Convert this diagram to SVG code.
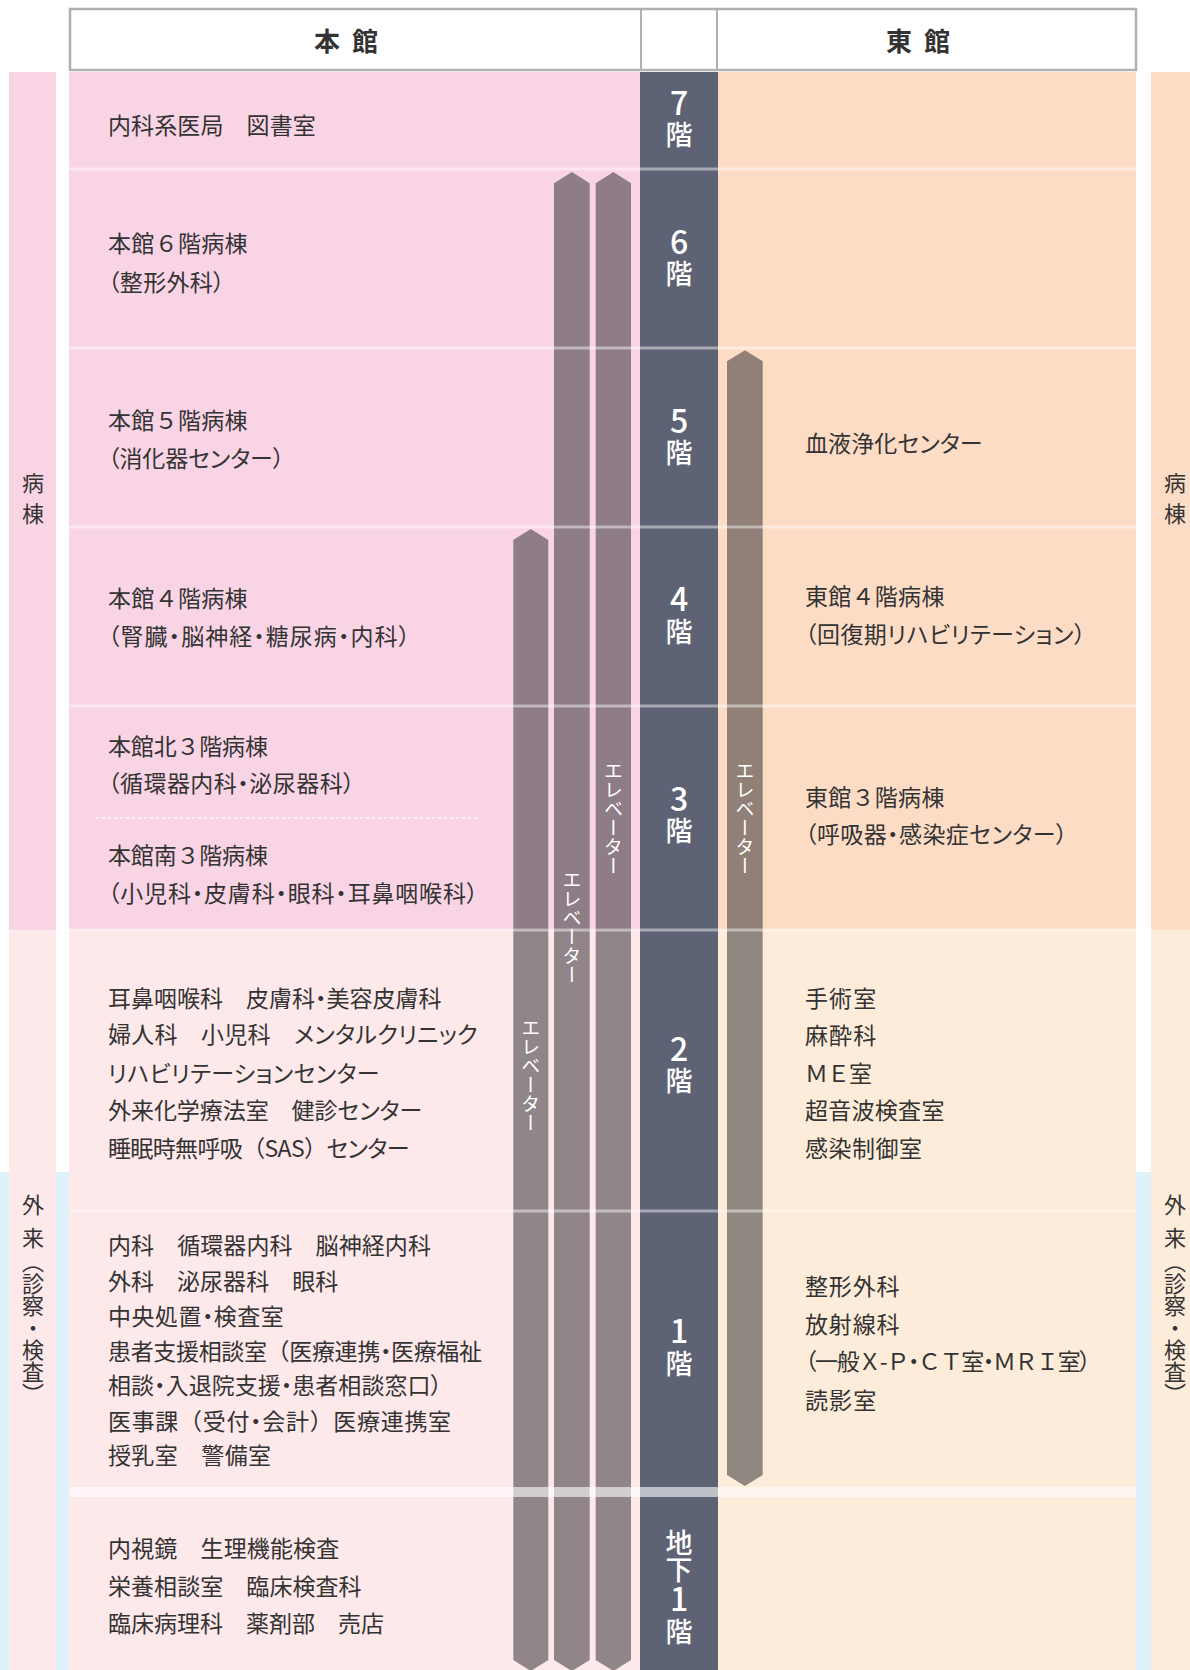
<svg xmlns="http://www.w3.org/2000/svg" width="1190" height="1670" viewBox="0 0 1190 1670">
<style>
text{font-family:"Noto Sans CJK JP","Noto Sans",sans-serif;}
.t{font-size:23px;fill:#333;font-feature-settings:"palt";}
.fw{font-feature-settings:normal;}
.hd{font-size:26px;font-weight:700;fill:#333;letter-spacing:12px;}
.side{font-size:22px;fill:#333;text-anchor:middle;}
.sidev{font-size:22px;fill:#333;writing-mode:vertical-rl;}
.flv{font-size:27px;fill:#fff;font-weight:500;writing-mode:vertical-rl;text-orientation:upright;}
.dg{font-size:32px;letter-spacing:2.5px;}
.ev{font-size:19px;fill:#fff;writing-mode:vertical-rl;}
.wW{fill:#f9d4e5;}
.wE{fill:#fddcc6;}
.oW{fill:#fde8ea;}
.oE{fill:#fdecd9;}
.elev{fill:#242428;fill-opacity:0.5;}
.row{stroke:#fff;stroke-opacity:0.45;stroke-width:3;}
</style>
<rect x="0" y="0" width="1190" height="1670" fill="#fff"/>
<rect x="0" y="1172" width="1190" height="498" fill="#dff1f9"/>

<g id="header">
<rect x="70" y="9" width="1066" height="61" fill="#fff" stroke="#b0b0b0" stroke-width="2.5"/>
<line x1="641" y1="9" x2="641" y2="70" stroke="#b0b0b0" stroke-width="2"/>
<line x1="717" y1="9" x2="717" y2="70" stroke="#b0b0b0" stroke-width="2"/>
<text class="hd" x="314" y="51">本館</text>
<text class="hd" x="886" y="51">東館</text>
</g>

<g id="side-left">
<rect x="9" y="72" width="47" height="858" class="wW"/>
<rect x="9" y="930" width="47" height="740" class="oW"/>
<text class="side" x="33" y="490.5">病</text>
<text class="side" x="33" y="521.5">棟</text>
<text class="side" x="33" y="1213">外</text>
<text class="side" x="33" y="1246">来</text>
<text class="sidev" x="33" y="1251">（診察・検査）</text>
</g>
<g id="side-right">
<rect x="1151" y="72" width="47" height="858" class="wE"/>
<rect x="1151" y="930" width="47" height="740" class="oE"/>
<text class="side" x="1175" y="490.5">病</text>
<text class="side" x="1175" y="521.5">棟</text>
<text class="side" x="1175" y="1213">外</text>
<text class="side" x="1175" y="1246">来</text>
<text class="sidev" x="1175" y="1251">（診察・検査）</text>
</g>

<g id="floor-7">
<rect x="69" y="72" width="571" height="97" class="wW"/>
<rect x="718" y="72" width="418" height="97" class="wE"/>
<text class="t" x="108" y="134" textLength="207.8" lengthAdjust="spacing">内科系医局　図書室</text>
</g>
<g id="floor-6">
<rect x="69" y="169" width="571" height="179" class="wW"/>
<rect x="718" y="169" width="418" height="179" class="wE"/>
<text class="t" x="108" y="251.5" textLength="139.6" lengthAdjust="spacing">本館<tspan class="fw">６</tspan>階病棟</text>
<text class="t" x="108" y="290.5" textLength="116.7" lengthAdjust="spacing">（整形外科）</text>
</g>
<g id="floor-5">
<rect x="69" y="348" width="571" height="179" class="wW"/>
<rect x="718" y="348" width="418" height="179" class="wE"/>
<text class="t" x="108" y="429" textLength="139.6" lengthAdjust="spacing">本館<tspan class="fw">５</tspan>階病棟</text>
<text class="t" x="108" y="466.5" textLength="176.3" lengthAdjust="spacing">（消化器センター）</text>
<text class="t" x="805" y="451.5" textLength="177.7" lengthAdjust="spacing">血液浄化センター</text>
</g>
<g id="floor-4">
<rect x="69" y="527" width="571" height="179" class="wW"/>
<rect x="718" y="527" width="418" height="179" class="wE"/>
<text class="t" x="108" y="607" textLength="139.6" lengthAdjust="spacing">本館<tspan class="fw">４</tspan>階病棟</text>
<text class="t" x="108" y="644.5" textLength="302" lengthAdjust="spacing">（腎臓・脳神経・糖尿病・内科）</text>
<text class="t" x="805" y="605" textLength="139.4" lengthAdjust="spacing">東館<tspan class="fw">４</tspan>階病棟</text>
<text class="t" x="805" y="642.5" textLength="280.5" lengthAdjust="spacing">（回復期リハビリテーション）</text>
</g>
<g id="floor-3">
<rect x="69" y="706" width="571" height="224" class="wW"/>
<rect x="718" y="706" width="418" height="224" class="wE"/>
<text class="t" x="108" y="754.5" textLength="159.9" lengthAdjust="spacing">本館北<tspan class="fw">３</tspan>階病棟</text>
<text class="t" x="108" y="792" textLength="246.6" lengthAdjust="spacing">（循環器内科・泌尿器科）</text>
<line x1="96" y1="818" x2="480" y2="818" stroke="#fff" stroke-width="1.5" stroke-dasharray="3 3" stroke-opacity="0.9"/>
<text class="t" x="108" y="864" textLength="159.9" lengthAdjust="spacing">本館南<tspan class="fw">３</tspan>階病棟</text>
<text class="t" x="108" y="902" textLength="370.2" lengthAdjust="spacing">（小児科・皮膚科・眼科・耳鼻咽喉科）</text>
<text class="t" x="805" y="805.5" textLength="139.4" lengthAdjust="spacing">東館<tspan class="fw">３</tspan>階病棟</text>
<text class="t" x="805" y="842.5" textLength="262.4" lengthAdjust="spacing">（呼吸器・感染症センター）</text>
</g>
<g id="floor-2">
<rect x="69" y="930" width="571" height="281" class="oW"/>
<rect x="718" y="930" width="418" height="281" class="oE"/>
<text class="t" x="108" y="1006.5" textLength="333.5" lengthAdjust="spacing">耳鼻咽喉科　皮膚科・美容皮膚科</text>
<text class="t" x="108" y="1043" textLength="369.7" lengthAdjust="spacing">婦人科　小児科　メンタルクリニック</text>
<text class="t" x="108" y="1081.5" textLength="271.7" lengthAdjust="spacing">リハビリテーションセンター</text>
<text class="t" x="108" y="1118.5" textLength="314.3" lengthAdjust="spacing">外来化学療法室　健診センター</text>
<text class="t" x="108" y="1157" textLength="301.5" lengthAdjust="spacing">睡眠時無呼吸<tspan class="fw">（</tspan>SAS<tspan class="fw">）</tspan>センター</text>
<text class="t" x="805" y="1006.5" textLength="71.2" lengthAdjust="spacing">手術室</text>
<text class="t" x="805" y="1044" textLength="71.2" lengthAdjust="spacing">麻酔科</text>
<text class="t" x="805" y="1081.5" textLength="66.9" lengthAdjust="spacing"><tspan class="fw">ＭＥ</tspan>室</text>
<text class="t" x="805" y="1118.5" textLength="139.4" lengthAdjust="spacing">超音波検査室</text>
<text class="t" x="805" y="1157" textLength="117" lengthAdjust="spacing">感染制御室</text>
</g>
<g id="floor-1">
<rect x="69" y="1211" width="571" height="281" class="oW"/>
<rect x="718" y="1211" width="418" height="281" class="oE"/>
<text class="t" x="108" y="1254" textLength="322.9" lengthAdjust="spacing">内科　循環器内科　脳神経内科</text>
<text class="t" x="108" y="1290" textLength="230.2" lengthAdjust="spacing">外科　泌尿器科　眼科</text>
<text class="t" x="108" y="1325" textLength="175.8" lengthAdjust="spacing">中央処置・検査室</text>
<text class="t" x="108" y="1359.5" textLength="374" lengthAdjust="spacing">患者支援相談室<tspan class="fw">（</tspan>医療連携・医療福祉</text>
<text class="t" x="108" y="1393.5" textLength="334" lengthAdjust="spacing">相談・入退院支援・患者相談窓口）</text>
<text class="t" x="108" y="1429.5" textLength="343.1" lengthAdjust="spacing">医事課<tspan class="fw">（</tspan>受付・会計<tspan class="fw">）</tspan>医療連携室</text>
<text class="t" x="108" y="1463.5" textLength="163" lengthAdjust="spacing">授乳室　警備室</text>
<text class="t" x="805" y="1295" textLength="94.6" lengthAdjust="spacing">整形外科</text>
<text class="t" x="805" y="1332.5" textLength="94.6" lengthAdjust="spacing">放射線科</text>
<text class="t" x="805" y="1370" textLength="285.8" lengthAdjust="spacing">（一般<tspan class="fw">Ｘ</tspan>-<tspan class="fw">Ｐ</tspan>・<tspan class="fw">ＣＴ</tspan>室・<tspan class="fw">ＭＲＩ</tspan>室）</text>
<text class="t" x="805" y="1408.5" textLength="71.2" lengthAdjust="spacing">読影室</text>
</g>
<g id="floor-b1">
<rect x="69" y="1492" width="571" height="178" class="oW"/>
<rect x="718" y="1492" width="418" height="178" class="oE"/>
<text class="t" x="108" y="1556.5" textLength="231.2" lengthAdjust="spacing">内視鏡　生理機能検査</text>
<text class="t" x="108" y="1595" textLength="253.6" lengthAdjust="spacing">栄養相談室　臨床検査科</text>
<text class="t" x="108" y="1632" textLength="276" lengthAdjust="spacing">臨床病理科　薬剤部　売店</text>
</g>

<g id="floor-column">
<rect x="640" y="72" width="78" height="1598" fill="#5d6374"/>
<text class="flv" x="679" y="86.8"><tspan class="dg">7</tspan>階</text>
<text class="flv" x="679" y="226"><tspan class="dg">6</tspan>階</text>
<text class="flv" x="679" y="404.5"><tspan class="dg">5</tspan>階</text>
<text class="flv" x="679" y="583.3"><tspan class="dg">4</tspan>階</text>
<text class="flv" x="679" y="782.5"><tspan class="dg">3</tspan>階</text>
<text class="flv" x="679" y="1032.9"><tspan class="dg">2</tspan>階</text>
<text class="flv" x="679" y="1315.3"><tspan class="dg">1</tspan>階</text>
<text class="flv" x="679" y="1529">地下<tspan class="dg" style="letter-spacing:3px">1</tspan>階</text>
</g>

<g id="connectors">
<g id="elevator-a">
<polygon class="elev" points="513.3,540 530.8,529 548.3,540 548.3,1660 530.8,1671 513.3,1660"/>
<text class="ev" x="530.8" y="1018">エレベーター</text>
</g>
<g id="elevator-b">
<polygon class="elev" points="554,183.3 571.9,172 589.7,183.3 589.7,1660 571.9,1671 554,1660"/>
<text class="ev" x="571.9" y="870">エレベーター</text>
</g>
<g id="elevator-c">
<polygon class="elev" points="595.7,183.3 613.4,172 631,183.3 631,1660 613.4,1671 595.7,1660"/>
<text class="ev" x="613.4" y="761">エレベーター</text>
</g>
<g id="elevator-east">
<polygon class="elev" points="727,361.3 744.9,350.3 762.7,361.3 762.7,1475 744.9,1486 727,1475"/>
<text class="ev" x="744.9" y="761">エレベーター</text>
</g>
</g>

<g id="row-lines">
<line class="row" x1="69" y1="169" x2="1136" y2="169"/>
<line class="row" x1="69" y1="348" x2="1136" y2="348"/>
<line class="row" x1="69" y1="527" x2="1136" y2="527"/>
<line class="row" x1="69" y1="706" x2="1136" y2="706"/>
<line class="row" x1="69" y1="930" x2="1136" y2="930"/>
<line class="row" x1="69" y1="1211" x2="1136" y2="1211"/>
<rect x="69" y="1487" width="1067" height="10" fill="#fff" fill-opacity="0.6"/>
</g>
</svg>
